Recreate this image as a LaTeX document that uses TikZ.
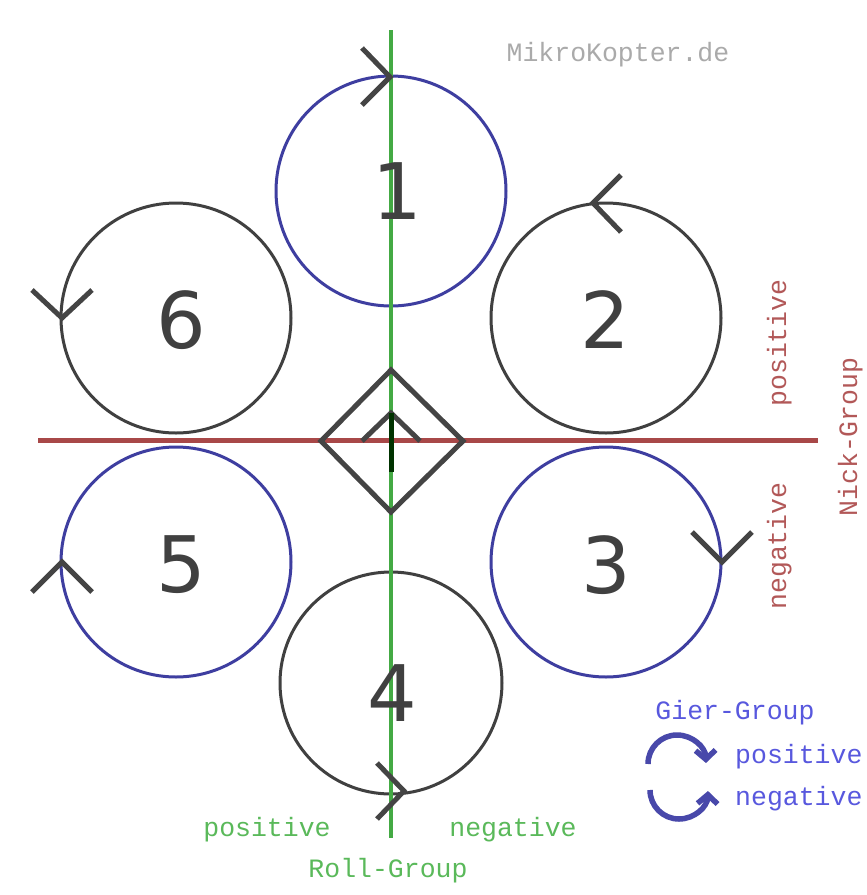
\documentclass[tikz,border=0pt]{standalone}
\usepackage{fontspec}
\setmainfont{DejaVu Sans}
\newfontfamily\pixfont{Liberation Mono}
\usetikzlibrary{arrows.meta}
\definecolor{rotorblue}{RGB}{62,62,160}
\definecolor{rotorgray}{RGB}{64,64,64}
\definecolor{chevgray}{RGB}{68,68,68}
\definecolor{rollgreen}{RGB}{68,170,68}
\definecolor{nickred}{RGB}{168,72,72}
\definecolor{txtgreen}{RGB}{90,185,90}
\definecolor{txtred}{RGB}{178,88,88}
\definecolor{txtblue}{RGB}{88,88,222}
\definecolor{legblue}{RGB}{72,72,170}
\definecolor{logogray}{RGB}{170,170,170}
\tikzset{
  rotor/.style={circle, draw, line width=3pt, minimum size=230pt, inner sep=0pt},
  bluerotor/.style={rotor, draw=rotorblue},
  grayrotor/.style={rotor, draw=rotorgray},
  digit/.style={text=rotorgray, inner sep=0pt, font=\fontsize{78}{78}\selectfont},
  chev/.style={draw=chevgray, line width=5pt, line join=miter},
  pix/.style={inner sep=0pt, font=\pixfont\fontsize{26.5}{26.5}\selectfont},
  legarrow/.style={draw=legblue, line width=5.5pt, -{Straight Barb[length=9pt,width=20pt]}}
}
\begin{document}
\begin{tikzpicture}[x=1pt,y=-1pt]
\useasboundingbox (0,0) rectangle (867,895);
\fill[white] (0,0) rectangle (867,895);

% rotors
\node[bluerotor] (m1) at (391,191) {};
\node[grayrotor] (m2) at (606,318) {};
\node[bluerotor] (m3) at (606,562) {};
\node[grayrotor, minimum size=222pt] (m4) at (391,683) {};
\node[bluerotor] (m5) at (176,562) {};
\node[grayrotor] (m6) at (176,318) {};

% axes
\coordinate (rolltop) at (391,30);
\coordinate (rollbot) at (391,838);
\coordinate (nickleft) at (38,440);
\coordinate (nickright) at (818,440);
\draw[rollgreen, line width=4pt] (rolltop) -- (rollbot);
\draw[nickred, line width=5pt] (nickleft) -- (nickright);

% digits
\node[digit] (d1) at (397,191) {1};
\node[digit] (d2) at (605,320) {2};
\node[digit] (d3) at (606,565) {3};
\node[digit] (d4) at (392,693) {4};
\node[digit] (d5) at (181,565) {5};
\node[digit] (d6) at (181,320) {6};

% rotation chevrons
\draw[chev] (362,48) -- (390,77) -- (362,105);
\draw[chev] (621,175) -- (593,203) -- (621,232);
\draw[chev] (692,532) -- (722,562) -- (752,532);
\draw[chev] (377,763) -- (404,791) -- (377,819);
\draw[chev] (32,592) -- (62,562) -- (92,592);
\draw[chev] (32,290) -- (62,318) -- (92,290);

% centre diamond with heading arrow
\draw[chev] (391,370) -- (463,441) -- (391,512) -- (321,441) -- cycle;
\draw[chev] (362,441) -- (391,413) -- (420,441);
\draw[chev, draw=black!80!green] (391,413) -- (391,472);

% texts
\node[pix, text=logogray, anchor=base] (logo) at (618,61) {MikroKopter.de};
\node[pix, text=txtgreen, anchor=base] (rollpos) at (267,836) {positive};
\node[pix, text=txtgreen, anchor=base] (rollneg) at (513,836) {negative};
\node[pix, text=txtgreen, anchor=base] (rollname) at (388,877) {Roll-Group};
\node[pix, text=txtred, anchor=base, rotate=90] (nickpos) at (786,343) {positive};
\node[pix, text=txtred, anchor=base, rotate=90] (nickneg) at (786,546) {negative};
\node[pix, text=txtred, anchor=base, rotate=90] (nickname) at (857,437) {Nick-Group};
\node[pix, text=txtblue, anchor=base] (giername) at (735,719) {Gier-Group};
\node[pix, text=txtblue, anchor=base west] (gierpos) at (735,763) {positive};
\node[pix, text=txtblue, anchor=base west] (gierneg) at (735,805) {negative};

% legend arrows
\draw[legarrow] (648,764) arc[start angle=180, end angle=358, radius=29];
\draw[legarrow] (650,790) arc[start angle=180, end angle=2, radius=29];
\end{tikzpicture}
\end{document}
